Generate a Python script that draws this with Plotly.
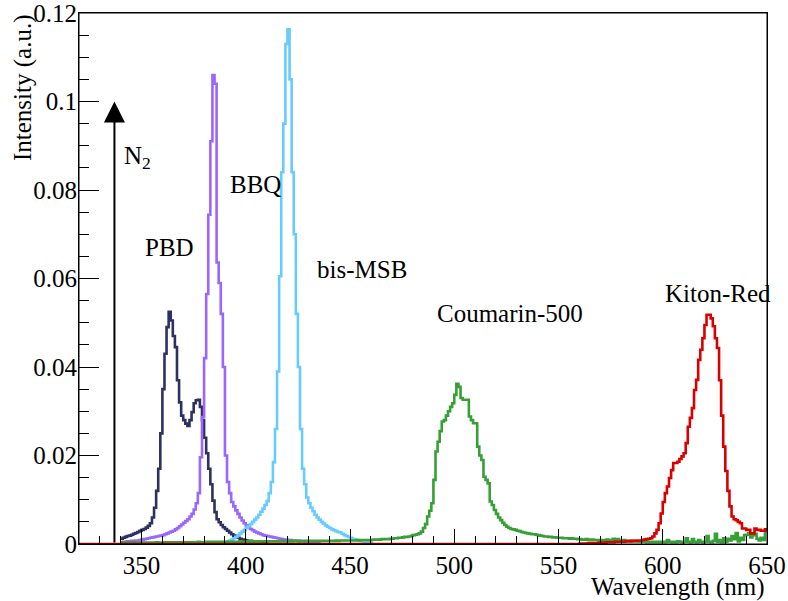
import plotly.graph_objects as go

# ---------------- data (1 nm bins, values = bin contents) ----------------
pbd_start = 340
pbd_values = [
    .0012, .0014, .0016, .0018, .0019, .0021, .0023, .0025, .0027, .0030,   # 340-349
    .0032, .0034, .0037, .0041, .0047, .0060, .0082, .0120, .0170, .0250,   # 350-359
    .0350, .0430, .0490, .0525, .0505, .0470, .0445, .0370, .0320, .0290,   # 360-369
    .0280, .0272, .0267, .0280, .0298, .0318, .0325, .0326, .0310, .0280,   # 370-379
    .0240, .0205, .0170, .0135, .0098, .0072, .0056, .0049, .0043, .0038,   # 380-389
    .0034, .0030, .0026, .0022, .0019, .0016, .0014, .0012, .0010, .0009,   # 390-399
    .0008, .0007, .0007, .0006, .0005, .0005, .0004, .0004, .0003, .0003,   # 400-409
    .0002,
]

bbq_start = 340
bbq_values = [
    .0004, .0005, .0005, .0006, .0006, .0007, .0007, .0008, .0008, .0009,   # 340-349
    .0010, .0011, .0012, .0013, .0014, .0015, .0016, .0017, .0018, .0019,   # 350-359
    .0020, .0022, .0024, .0026, .0028, .0030, .0033, .0036, .0040, .0044,   # 360-369
    .0048, .0052, .0056, .0062, .0068, .0078, .0092, .0115, .0196, .0287,   # 370-379
    .0420, .0565, .0744, .0910, .1060, .1040, .0636, .0590, .0520, .0400,   # 380-389
    .0200, .0140, .0115, .0095, .0085, .0076, .0068, .0060, .0053, .0047,   # 390-399
    .0042, .0038, .0034, .0031, .0028, .0026, .0024, .0022, .0020, .0019,   # 400-409
    .0018, .0017, .0016, .0015, .0014, .0013, .0012, .0011, .0010, .0010,   # 410-419
    .0009, .0009, .0008, .0008, .0007, .0007, .0006, .0006, .0005, .0005,   # 420-429
    .0004, .0004, .0003, .0003, .0003, .0002,
]

bismsb_start = 390
bismsb_values = [
    .0004, .0006, .0008, .0010, .0013, .0016, .0020, .0024, .0028, .0032,   # 390-399
    .0036, .0040, .0045, .0050, .0055, .0060, .0066, .0073, .0080, .0088,   # 400-409
    .0097, .0115, .0140, .0185, .0260, .0390, .0605, .0840, .0950, .1130,   # 410-419
    .1163, .1050, .0840, .0700, .0520, .0400, .0260, .0170, .0135, .0105,   # 420-429
    .0092, .0082, .0074, .0066, .0060, .0055, .0050, .0046, .0042, .0039,   # 430-439
    .0036, .0033, .0031, .0029, .0027, .0026, .0023, .0020, .0018, .0016,   # 440-449
    .0014, .0012, .0010, .0009, .0008, .0007, .0006, .0005, .0004, .0004,   # 450-459
    .0003,
]

coumarin_start = 340
coumarin_values = [
    .0002, .0003, .0002, .0003, .0002, .0003, .0003, .0002, .0003, .0003,   # 340-349
    .0003, .0003, .0003, .0003, .0003, .0003, .0003, .0004, .0003, .0003,   # 350-359
    .0003, .0004, .0003, .0004, .0004, .0003, .0004, .0004, .0004, .0004,   # 360-369
    .0004, .0004, .0004, .0004, .0004, .0004, .0004, .0005, .0004, .0004,   # 370-379
    .0004, .0005, .0004, .0005, .0005, .0004, .0005, .0005, .0005, .0005,   # 380-389
    .0005, .0005, .0005, .0005, .0005, .0005, .0005, .0006, .0005, .0005,   # 390-399
    .0005, .0006, .0005, .0006, .0006, .0005, .0006, .0006, .0006, .0006,   # 400-409
    .0006, .0006, .0006, .0006, .0006, .0006, .0006, .0007, .0006, .0006,   # 410-419
    .0006, .0007, .0006, .0007, .0007, .0006, .0007, .0007, .0007, .0007,   # 420-429
    .0007, .0007, .0007, .0007, .0007, .0007, .0007, .0007, .0007, .0007,   # 430-439
    .0007, .0007, .0007, .0008, .0007, .0008, .0008, .0008, .0008, .0008,   # 440-449
    .0008, .0008, .0008, .0009, .0008, .0009, .0009, .0009, .0009, .0009,   # 450-459
    .0009, .0010, .0010, .0010, .0010, .0011, .0011, .0011, .0011, .0012,   # 460-469
    .0012, .0013, .0013, .0014, .0014, .0015, .0016, .0016, .0017, .0018,   # 470-479
    .0020, .0021, .0022, .0024, .0028, .0036, .0045, .0062, .0075, .0092,   # 480-489
    .0145, .0209, .0231, .0255, .0277, .0280, .0290, .0300, .0310, .0318,   # 490-499
    .0337, .0362, .0355, .0330, .0326, .0326, .0326, .0288, .0280, .0273,   # 500-509
    .0273, .0220, .0200, .0190, .0152, .0145, .0137, .0096, .0088, .0077,   # 510-519
    .0068, .0060, .0054, .0048, .0043, .0039, .0036, .0034, .0033, .0032,   # 520-529
    .0030, .0029, .0027, .0026, .0025, .0024, .0023, .0022, .0022, .0021,   # 530-539
    .0020, .0019, .0018, .0017, .0017, .0016, .0016, .0015, .0015, .0014,   # 540-549
    .0014, .0014, .0013, .0013, .0013, .0012, .0013, .0012, .0012, .0011,   # 550-559
    .0011, .0010, .0010, .0011, .0010, .0009, .0010, .0009, .0009, .0009,   # 560-569
    .0008, .0009, .0008, .0010, .0008, .0009, .0012, .0008, .0011, .0008,   # 570-579
    .0007, .0009, .0007, .0008, .0007, .0006, .0007, .0006, .0006, .0005,   # 580-589
    .0005, .0005, .0004, .0005, .0004, .0005, .0004, .0005, .0004, .0005,   # 590-599
    .0005, .0004, .0009, .0005, .0004, .0005, .0004, .0006, .0005, .0004,   # 600-609
    .0005, .0013, .0005, .0004, .0011, .0005, .0004, .0009, .0005, .0004,   # 610-619
    .0005, .0018, .0005, .0004, .0007, .0023, .0005, .0009, .0004, .0013,   # 620-629
    .0005, .0012, .0008, .0018, .0011, .0025, .0006, .0014, .0009, .0020,   # 630-639
    .0021, .0024, .0015, .0020, .0023, .0012, .0008, .0014, .0009, .0031,   # 640-649
]

kiton_start = 560
kiton_values = [
    .0001, .0001, .0001, .0001, .0002, .0002, .0002, .0002, .0002, .0003,   # 560-569
    .0003, .0003, .0003, .0004, .0004, .0004, .0004, .0005, .0005, .0005,   # 570-579
    .0005, .0005, .0006, .0006, .0006, .0007, .0007, .0007, .0008, .0008,   # 580-589
    .0009, .0010, .0011, .0012, .0013, .0017, .0024, .0032, .0047, .0069,   # 590-599
    .0095, .0115, .0130, .0149, .0167, .0183, .0183, .0186, .0192, .0198,   # 600-609
    .0205, .0228, .0265, .0285, .0307, .0348, .0371, .0416, .0439, .0465,   # 610-619
    .0495, .0518, .0518, .0510, .0492, .0465, .0443, .0370, .0290, .0220,   # 620-629
    .0165, .0120, .0085, .0062, .0056, .0054, .0050, .0047, .0035, .0035,   # 630-639
    .0032, .0032, .0024, .0024, .0035, .0032, .0032, .0030, .0030, .0033,   # 640-649
]

series_names = ["PBD", "BBQ", "bis-MSB", "Coumarin-500", "Kiton-Red"]
series_starts = [pbd_start, bbq_start, bismsb_start, coumarin_start, kiton_start]
series_values = [pbd_values, bbq_values, bismsb_values, coumarin_values, kiton_values]

n2_wavelength = 337.0   # N2 laser line
n2_marker_height = 0.1

x_range = [320, 650]
y_range = [0, 0.12]
x_tick_values = [350, 400, 450, 500, 550, 600, 650]
y_tick_values = [0, 0.02, 0.04, 0.06, 0.08, 0.1, 0.12]
y_tick_labels = ["0", "0.02", "0.04", "0.06", "0.08", "0.1", "0.12"]
bin_width = 1.0

# ---------------- styles / label placement ----------------
colors = ["#2e3160", "#9a66ff", "#66ccff", "#35a035", "#d90000"]
label_pos = {            # (wavelength, intensity) of label left-middle
    "N2": (340.8, 0.0873),
    "PBD": (350.8, 0.0670),
    "BBQ": (391.6, 0.0812),
    "bis-MSB": (433.3, 0.0620),
    "Coumarin-500": (490.8, 0.0520),
    "Kiton-Red": (600.2, 0.0566),
}
FONT = "Liberation Serif, Times New Roman, serif"
FS = 25

fig = go.Figure()

for name, start, vals, col in zip(series_names, series_starts, series_values, colors):
    vals = list(vals)
    if name == "Kiton-Red":
        # histogram range extends to the axis start with empty bins
        n_pad = int(round((start - x_range[0]) / bin_width))
        vals = [0.0] * n_pad + vals
        start = x_range[0]
    edges = [start + i * bin_width for i in range(len(vals) + 1)]
    ys = vals + [vals[-1]]
    fig.add_trace(go.Scatter(
        x=edges, y=ys, mode="lines", line=dict(color=col, width=2.6, shape="hv"),
        name=name, hoverinfo="skip", cliponaxis=True))

annotations = []
# N2 arrow
annotations.append(dict(
    x=n2_wavelength, y=n2_marker_height, ax=n2_wavelength, ay=0,
    xref="x", yref="y", axref="x", ayref="y", text="", showarrow=True,
    arrowhead=2, arrowsize=2.1, arrowwidth=2, arrowcolor="black", standoff=0, startstandoff=0))
# labels
for key, txt in [("N2", "N<sub>2</sub>"), ("PBD", "PBD"), ("BBQ", "BBQ"),
                 ("bis-MSB", "bis-MSB"), ("Coumarin-500", "Coumarin-500"), ("Kiton-Red", "Kiton-Red")]:
    lx, ly = label_pos[key]
    annotations.append(dict(x=lx, y=ly, xref="x", yref="y", text=txt, showarrow=False,
                            xanchor="left", yanchor="middle",
                            font=dict(family=FONT, size=FS, color="black")))
# axis titles (ROOT style: aligned to the axis end)
annotations.append(dict(x=1, y=-0.081, xref="paper", yref="paper", text="Wavelength (nm)",
                        showarrow=False, xanchor="right", yanchor="middle",
                        font=dict(family=FONT, size=FS, color="black")))
annotations.append(dict(x=-0.0814, y=1, xref="paper", yref="paper", text="Intensity (a.u.)",
                        showarrow=False, xanchor="center", yanchor="top", textangle=-90,
                        font=dict(family=FONT, size=FS, color="black")))

fig.update_layout(
    width=788, height=601,
    margin=dict(l=79, r=21, t=13, b=57, autoexpand=False),
    plot_bgcolor="white", paper_bgcolor="white",
    showlegend=False,
    font=dict(family=FONT, size=FS, color="black"),
    annotations=annotations,
    shapes=[dict(type="rect", xref="paper", yref="paper", x0=0, x1=1, y0=0, y1=1,
                 line=dict(color="black", width=1), fillcolor="rgba(0,0,0,0)", layer="above")],
)
fig.update_xaxes(
    range=x_range, tickmode="array", tickvals=x_tick_values, automargin=False,
    ticks="inside", ticklen=15, tickwidth=1, tickcolor="black",
    ticklabelstandoff=-1, ticklabeloverflow="allow",
    showline=True, linecolor="black", linewidth=1, mirror=True,
    showgrid=False, zeroline=False,
    tickfont=dict(family=FONT, size=FS, color="black"),
    minor=dict(tickmode="linear", tick0=320, dtick=10, ticks="inside", ticklen=8,
               tickwidth=1, tickcolor="black", showgrid=False),
)
fig.update_yaxes(
    range=y_range, tickmode="array", tickvals=y_tick_values, ticktext=y_tick_labels,
    automargin=False,
    ticks="inside", ticklen=20, tickwidth=1, tickcolor="black",
    ticklabelstandoff=-4, ticklabeloverflow="allow",
    showline=True, linecolor="black", linewidth=1, mirror=True,
    showgrid=False, zeroline=False,
    tickfont=dict(family=FONT, size=FS, color="black"),
    minor=dict(tickmode="linear", tick0=0, dtick=0.005, ticks="inside", ticklen=10,
               tickwidth=1, tickcolor="black", showgrid=False),
)

fig.write_html("out.html", config={"displayModeBar": False},
               post_script="document.body.style.margin='0';document.body.style.overflow='hidden';")
